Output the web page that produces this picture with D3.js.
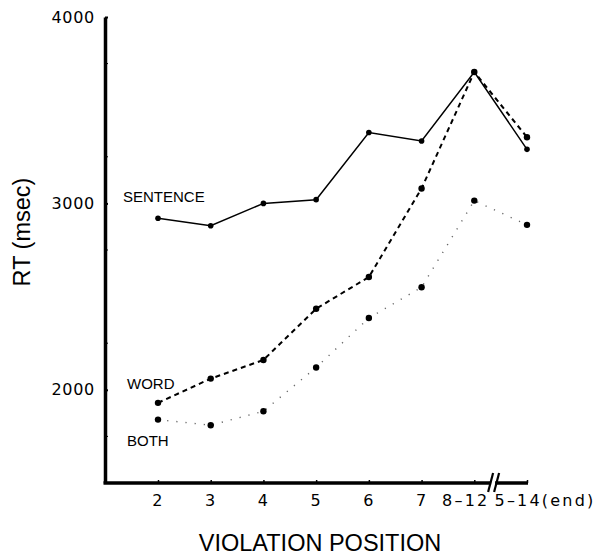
<!DOCTYPE html>
<html>
<head>
<meta charset="utf-8">
<script src="https://cdn.jsdelivr.net/npm/d3@7"></script>
<style>
  body { margin: 0; background: #fff; }
  svg { display: block; }
</style>
</head>
<body>
<div id="chart"></div>
<script>
// values
const categories = ["2", "3", "4", "5", "6", "7", "8–12", "5–14(end)"];
const sentence = [2920, 2880, 3000, 3020, 3380, 3335, 3705, 3290];
const word = [1930, 2060, 2160, 2435, 2605, 3080, 3705, 3355];
const both = [1840, 1810, 1885, 2120, 2385, 2550, 3015, 2885];
const yTicks = [2000, 3000, 4000];
const yMinorTicks = [1750, 2250, 2750, 3250, 3750];

const width = 599, height = 557;

const svg = d3.select("#chart").append("svg")
    .attr("width", width)
    .attr("height", height);

const x = d3.scalePoint().domain(categories).range([158, 527]);
const y = d3.scaleLinear().domain([1500, 4000]).range([483, 17]);
const axisX = 105;

// y axis
const gy = svg.append("g")
    .attr("transform", `translate(${axisX},0)`)
    .call(d3.axisLeft(y).tickValues(yTicks).tickSize(-3).tickSizeOuter(0).tickPadding(10).tickFormat(d3.format("d")));
gy.select(".domain").attr("stroke", "#000").attr("stroke-width", 3.5);
gy.selectAll(".tick line").attr("stroke", "#000").attr("stroke-width", 2);
gy.selectAll(".tick text")
    .attr("fill", "#000")
    .style("font-family", "'DejaVu Sans', sans-serif")
    .style("font-size", "16px")
    .style("letter-spacing", "0.7px");

// minor nubs on the y axis
svg.append("g").selectAll("line")
    .data(yMinorTicks)
    .join("line")
    .attr("x1", axisX).attr("x2", axisX + 3)
    .attr("y1", d => y(d)).attr("y2", d => y(d))
    .attr("stroke", "#000").attr("stroke-width", 1);

// x axis
const gx = svg.append("g")
    .attr("transform", `translate(0,${y(1500)})`)
    .call(d3.axisBottom(x).tickSize(-3).tickSizeOuter(0).tickPadding(12));
gx.select(".domain").remove();
gx.selectAll(".tick line").attr("stroke", "#000").attr("stroke-width", 1.5);
gx.selectAll(".tick text")
    .attr("fill", "#000")
    .style("font-family", "'DejaVu Sans', sans-serif")
    .style("font-size", "16px")
    .style("letter-spacing", "2.2px")
    .attr("dx", (d, i) => i === categories.length - 2 ? -9 : 0)
    .attr("text-anchor", (d, i) => i === categories.length - 1 ? "start" : "middle")
    .attr("x", (d, i) => i === categories.length - 1 ? -33 : 0);

const xEnd = x(categories[categories.length - 1]) + 1;
svg.append("line")
    .attr("x1", axisX - 1.5).attr("x2", xEnd)
    .attr("y1", y(1500)).attr("y2", y(1500))
    .attr("stroke", "#000").attr("stroke-width", 3.5);

// axis break marks between the last two positions
const step = x.step();
const xb = x(categories[categories.length - 2]) + step * 0.3;
svg.append("rect")
    .attr("x", xb + 1).attr("y", y(1500) - 3)
    .attr("width", 4).attr("height", 6)
    .attr("fill", "#fff");
[0, 6].forEach(off => {
  svg.append("line")
      .attr("x1", xb + off - 2).attr("y1", y(1500) + 9)
      .attr("x2", xb + off + 3).attr("y2", y(1500) - 10)
      .attr("stroke", "#000").attr("stroke-width", 2.2);
});

// series
const line = d3.line().x((d, i) => x(categories[i])).y(d => y(d));

svg.append("path").datum(sentence)
    .attr("d", line).attr("fill", "none")
    .attr("stroke", "#000").attr("stroke-width", 1.5);

svg.append("path").datum(word)
    .attr("d", line).attr("fill", "none")
    .attr("stroke", "#000").attr("stroke-width", 2)
    .attr("stroke-dasharray", "5,4");

svg.append("path").datum(both)
    .attr("d", line).attr("fill", "none")
    .attr("stroke", "#666").attr("stroke-width", 1.4)
    .attr("stroke-dasharray", "1.2,8");

[[sentence, 2.8], [word, 3.2], [both, 3.2]].forEach(([vals, r]) => {
  svg.append("g").selectAll("circle")
      .data(vals)
      .join("circle")
      .attr("cx", (d, i) => x(categories[i]))
      .attr("cy", d => y(d))
      .attr("r", r)
      .attr("fill", "#000");
});

// series labels, placed near the first point of each line
const labelFont = "'Liberation Sans', Arial, sans-serif";
const seriesLabels = [
  { text: "SENTENCE", v: sentence[0], dx: -35, dy: -16 },
  { text: "WORD", v: word[0], dx: -31, dy: -14 },
  { text: "BOTH", v: both[0], dx: -31, dy: 26 }
];
svg.append("g").selectAll("text")
    .data(seriesLabels)
    .join("text")
    .attr("x", d => x(categories[0]) + d.dx)
    .attr("y", d => y(d.v) + d.dy)
    .style("font-family", labelFont)
    .style("font-size", "15px")
    .text(d => d.text);

// axis titles
svg.append("text")
    .attr("x", 320).attr("y", 551)
    .attr("text-anchor", "middle")
    .style("font-family", labelFont)
    .style("font-size", "23.5px")
    .text("VIOLATION POSITION");

svg.append("text")
    .attr("transform", "translate(30,232) rotate(-90)")
    .attr("text-anchor", "middle")
    .style("font-family", labelFont)
    .style("font-size", "23.5px")
    .text("RT (msec)");
</script>
</body>
</html>
